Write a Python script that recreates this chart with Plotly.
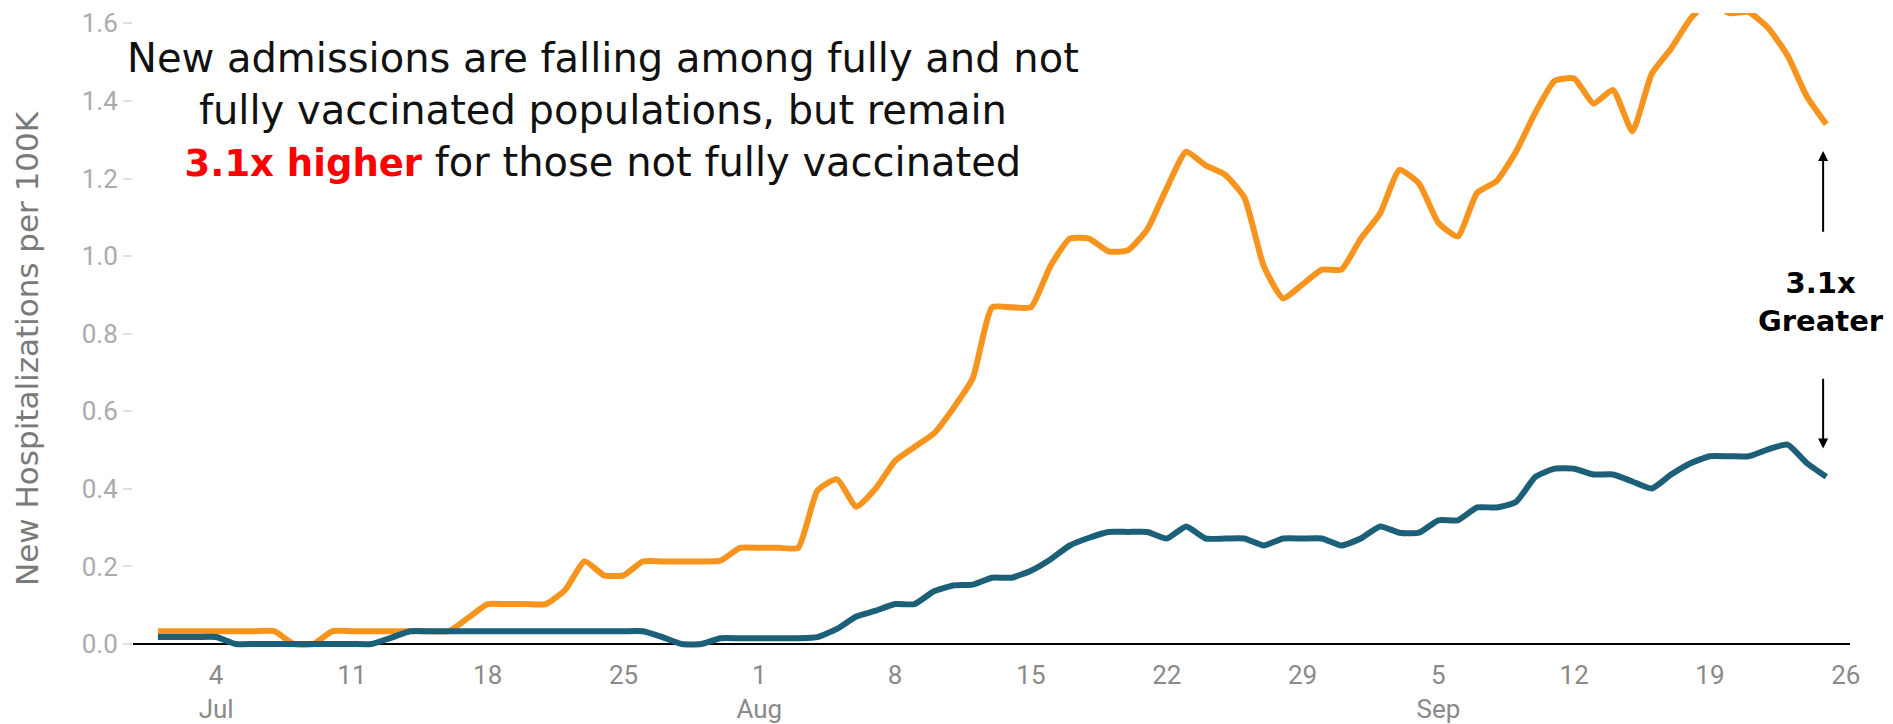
import plotly.graph_objs as go
import pandas as pd

# daily admissions per 100K, Jul 1 - Sep 25 2021
dates = pd.date_range("2021-07-01", "2021-09-25", freq="D")

not_fully_jul = [0.033, 0.033, 0.033, 0.033, 0.033, 0.033, 0.033, 0.0, 0.0, 0.033,
                 0.033, 0.033, 0.033, 0.033, 0.033, 0.033, 0.068, 0.103, 0.103, 0.103,
                 0.103, 0.14, 0.213, 0.177, 0.177, 0.213, 0.213, 0.213, 0.213, 0.215,
                 0.248]
not_fully_aug = [0.248, 0.248, 0.248, 0.396, 0.425, 0.354, 0.401, 0.472, 0.508, 0.543,
                 0.608, 0.685, 0.868, 0.868, 0.868, 0.974, 1.045, 1.045, 1.012, 1.015,
                 1.069, 1.175, 1.269, 1.234, 1.21, 1.151, 0.974, 0.891, 0.927, 0.965,
                 0.965]
not_fully_sep = [1.045, 1.11, 1.222, 1.187, 1.086, 1.051, 1.163, 1.193, 1.269, 1.37,
                 1.452, 1.458, 1.393, 1.428, 1.322, 1.47, 1.535, 1.612, 1.66, 1.626,
                 1.629, 1.588, 1.517, 1.411, 1.34]

fully_jul = [0.018, 0.018, 0.018, 0.018, 0.0, 0.0, 0.0, 0.0, 0.0, 0.0,
             0.0, 0.0, 0.016, 0.033, 0.033, 0.033, 0.033, 0.033, 0.033, 0.033,
             0.033, 0.033, 0.033, 0.033, 0.033, 0.033, 0.018, 0.0, 0.0, 0.015,
             0.015]
fully_aug = [0.015, 0.015, 0.015, 0.018, 0.039, 0.071, 0.086, 0.103, 0.103, 0.136,
             0.151, 0.153, 0.171, 0.171, 0.189, 0.218, 0.254, 0.274, 0.289, 0.289,
             0.289, 0.272, 0.303, 0.272, 0.272, 0.272, 0.254, 0.272, 0.272, 0.272,
             0.254]
fully_sep = [0.272, 0.303, 0.287, 0.287, 0.319, 0.319, 0.352, 0.352, 0.366, 0.431,
             0.452, 0.452, 0.437, 0.437, 0.419, 0.401, 0.437, 0.466, 0.484, 0.484,
             0.484, 0.502, 0.514, 0.466, 0.431]

not_fully = not_fully_jul + not_fully_aug + not_fully_sep
fully = fully_jul + fully_aug + fully_sep

tick_dates = ["2021-07-04", "2021-07-11", "2021-07-18", "2021-07-25", "2021-08-01",
              "2021-08-08", "2021-08-15", "2021-08-22", "2021-08-29", "2021-09-05",
              "2021-09-12", "2021-09-19", "2021-09-26"]
tick_text = ["4<br>Jul", "11", "18", "25", "1<br>Aug", "8", "15", "22", "29",
             "5<br>Sep", "12", "19", "26"]
y_ticks = [0.0, 0.2, 0.4, 0.6, 0.8, 1.0, 1.2, 1.4, 1.6]

ORANGE = "#F7941D"
TEAL = "#1B5F79"
TITLE_FONT = "DejaVu Sans"
ARROW_X = "2021-09-24 20:00"

fig = go.Figure()

fig.add_trace(go.Scatter(x=dates, y=not_fully, mode="lines", name="Not fully vaccinated",
                         line=dict(color=ORANGE, width=6, shape="spline", smoothing=0.5)))
fig.add_trace(go.Scatter(x=dates, y=fully, mode="lines", name="Fully vaccinated",
                         line=dict(color=TEAL, width=6, shape="spline", smoothing=0.5)))

# headline
fig.add_annotation(
    text="New admissions are falling among fully and not<br>"
         "fully vaccinated populations, but remain<br>"
         "<span style='color:#FF0000;font-size:37px'><b>3.1x higher</b></span>"
         " for those not fully vaccinated",
    xref="paper", yref="paper", x=0.2737, y=0.847, xanchor="center", yanchor="middle",
    showarrow=False, align="center",
    font=dict(family=TITLE_FONT, size=40, color="#111111"))

# gap label and arrows
fig.add_annotation(text="<b>3.1x<br>Greater</b>", xref="paper", yref="paper",
                   x=0.983, y=0.545, xanchor="center", yanchor="middle", showarrow=False,
                   font=dict(family=TITLE_FONT, size=29, color="#000000"))
fig.add_annotation(x=ARROW_X, y=1.271, ax=ARROW_X, ay=1.059,
                   xref="x", yref="y", axref="x", ayref="y", text="", showarrow=True,
                   arrowhead=2, arrowsize=1, arrowwidth=2, arrowcolor="#000000", standoff=0)
fig.add_annotation(x=ARROW_X, y=0.504, ax=ARROW_X, ay=0.688,
                   xref="x", yref="y", axref="x", ayref="y", text="", showarrow=True,
                   arrowhead=2, arrowsize=1, arrowwidth=2, arrowcolor="#000000", standoff=0)

# y axis title
fig.add_annotation(text="New Hospitalizations per 100K", xref="paper", yref="paper",
                   x=-0.0614, y=0.4727, xanchor="center", yanchor="middle", textangle=-90,
                   showarrow=False, font=dict(family=TITLE_FONT, size=31, color="#7A7A7A"))

fig.update_layout(
    width=1885, height=716,
    margin=dict(l=125, r=43, t=0, b=75),
    plot_bgcolor="white", paper_bgcolor="white",
    showlegend=False,
    font=dict(family="Roboto"),
    xaxis=dict(range=["2021-06-29 17:10", "2021-09-26 05:15"], tickvals=tick_dates,
               ticktext=tick_text, showgrid=False, zeroline=False, showline=False,
               ticks="", ticklabelstandoff=8,
               tickfont=dict(family="Roboto", size=26, color="#8A8A8A")),
    yaxis=dict(range=[-0.0128, 1.6266], tickvals=y_ticks, tickformat=".1f",
               showgrid=False, showline=False, zeroline=True, zerolinecolor="#000000",
               zerolinewidth=2, ticks="outside", ticklen=9, tickwidth=2,
               tickcolor="#E0E0E0", ticklabeloverflow="allow",
               tickfont=dict(family="Roboto", size=26, color="#ABABAB")),
)

fig.write_html("out.html")
